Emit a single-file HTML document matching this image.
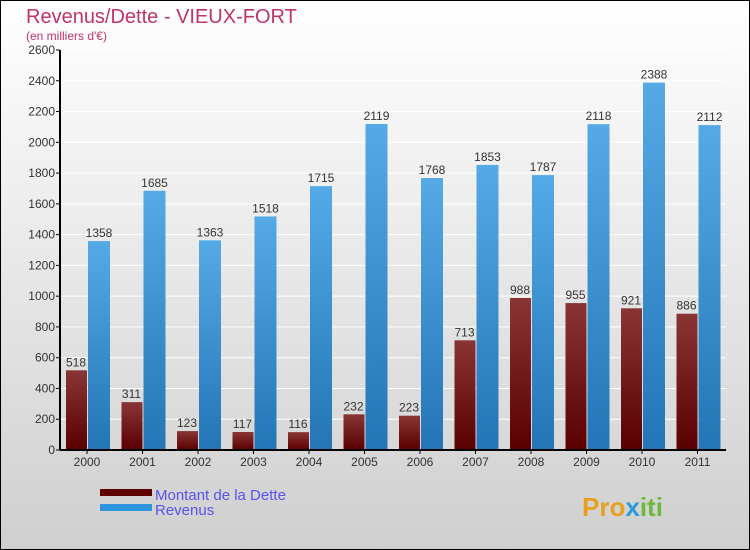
<!DOCTYPE html>
<html><head><meta charset="utf-8"><style>
body{margin:0}
svg{display:block;font-family:"Liberation Sans",sans-serif}
</style></head><body>
<svg width="750" height="550" viewBox="0 0 750 550">
<defs>
<linearGradient id="bg" x1="0" y1="0" x2="0" y2="1"><stop offset="0" stop-color="#ffffff"/><stop offset="1" stop-color="#cfcfcf"/></linearGradient>
<linearGradient id="gd" x1="0" y1="0" x2="0" y2="1"><stop offset="0" stop-color="#8a3535"/><stop offset="1" stop-color="#5a0000"/></linearGradient>
<linearGradient id="gr" x1="0" y1="0" x2="0" y2="1"><stop offset="0" stop-color="#55aae6"/><stop offset="1" stop-color="#2375b5"/></linearGradient>
</defs>
<rect x="0.5" y="0.5" width="749" height="549" fill="url(#bg)" stroke="#000"/>
<text x="26" y="23" font-size="20" fill="#c0326a">Revenus/Dette - VIEUX-FORT</text>
<text x="26" y="40" font-size="12" fill="#c0326a">(en milliers d'€)</text>
<g id="plot"></g>
<g>
<rect x="100" y="489" width="52" height="7" fill="#600000"/>
<text x="155" y="500" font-size="15" fill="#5555ee">Montant de la Dette</text>
<rect x="100" y="504" width="52" height="7" fill="#2d95de"/>
<text x="155" y="515" font-size="15" fill="#5555ee">Revenus</text>
</g>
<text x="582" y="516" font-size="26" font-weight="bold" fill="#e8a020">Pro<tspan fill="#2a9ad8">x</tspan><tspan fill="#6cb83a">iti</tspan></text>
</svg>
<script>
const years=["2000","2001","2002","2003","2004","2005","2006","2007","2008","2009","2010","2011"];
const dette=[518,311,123,117,116,232,223,713,988,955,921,886];
const revenus=[1358,1685,1363,1518,1715,2119,1768,1853,1787,2118,2388,2112];
const yTicks=[0,200,400,600,800,1000,1200,1400,1600,1800,2000,2200,2400,2600];
const NS="http://www.w3.org/2000/svg";
const g=document.getElementById('plot');
const x0=60,y0=450,yTop=50,gw=55.5,yMax=2600;
const y=v=>y0-(v/yMax)*(y0-yTop);
function mk(t,a,txt){const e=document.createElementNS(NS,t);for(const k in a)e.setAttribute(k,a[k]);if(txt!==undefined)e.textContent=txt;g.appendChild(e);return e;}
yTicks.forEach(v=>{
 const l=mk('line',{x1:x0,x2:x0+years.length*gw,y1:y(v),y2:y(v),stroke:'#ffffff','stroke-width':1});
 
 
 const tk=mk('line',{x1:x0-4,x2:x0,y1:y(v),y2:y(v),stroke:'#000'});
 
 
 const t=mk('text',{x:x0-5,y:y(v)+4,'font-size':12,'text-anchor':'end',fill:'#333'},v);
 
 
});
years.forEach((yr,i)=>{
 const gx=x0+i*gw;
 const b1=mk('rect',{x:gx+6,y:y(dette[i]),width:21,height:y0-y(dette[i]),fill:'url(#gd)'});
 
 
 const b2=mk('rect',{x:gx+28,y:y(revenus[i]),width:22,height:y0-y(revenus[i]),fill:'url(#gr)'});
 
 
 const t1=mk('text',{x:gx+16,y:y(dette[i])-4,'font-size':12,'text-anchor':'middle',fill:'#333'},dette[i]);
 
 
 const t2=mk('text',{x:gx+39,y:y(revenus[i])-4,'font-size':12,'text-anchor':'middle',fill:'#333'},revenus[i]);
 
 
 const tk=mk('line',{x1:gx+27,x2:gx+27,y1:y0,y2:y0+4,stroke:'#000'});
 
 
 const xl=mk('text',{x:gx+27,y:y0+16,'font-size':12,'text-anchor':'middle',fill:'#333'},yr);
 
 
});
const ax=mk('line',{x1:x0,x2:x0,y1:yTop,y2:y0,stroke:'#000','stroke-width':2});


const bx=mk('line',{x1:x0,x2:x0+years.length*gw,y1:y0,y2:y0,stroke:'#000','stroke-width':2});


</script>
</body></html>
